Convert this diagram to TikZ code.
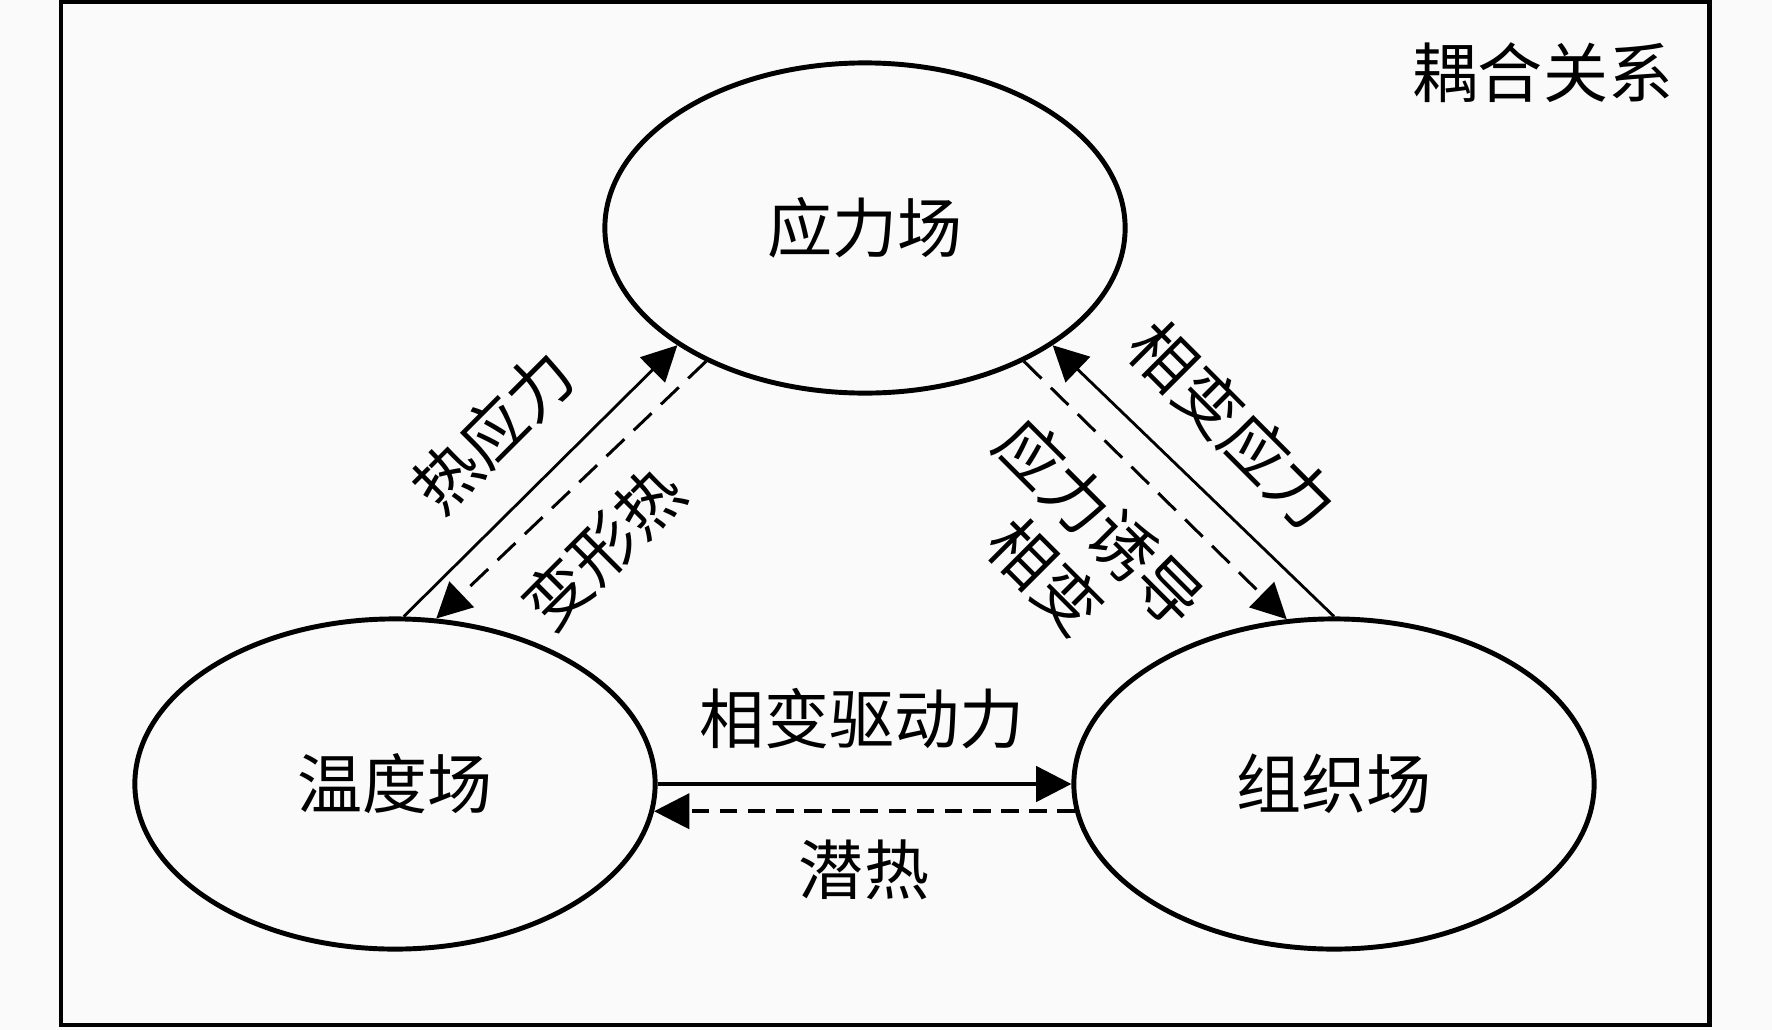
\documentclass[tikz,border=0pt]{standalone}
\usepackage{fontspec}
\newfontfamily\cjk{Noto Sans CJK SC}
\usetikzlibrary{shapes.geometric,arrows.meta}

\begin{document}
\begin{tikzpicture}[x=0.01cm,y=-0.01cm,font=\cjk\fontsize{18.5}{22}\selectfont,
  field/.style={ellipse,draw,line width=1.4pt,minimum width=5.2cm,minimum height=3.3cm,inner sep=0pt},
  tip/.style={-{Triangle[length=10pt,width=10pt]}},
  thinarrow/.style={tip,line width=0.8pt},
  dasharrow/.style={tip,line width=0.85pt,dash pattern=on 7pt off 3.7pt}]

\path[use as bounding box,fill=gray!4](0,0)rectangle(1772,1030);
\draw[line width=1.4pt](61,2)rectangle(1709.5,1025);

\node[field](stress)at(865,228){应力场};
\node[field](temp)at(395,784){温度场};
\node[field](micro)at(1334,784){组织场};
\node(title)at(1543,73){耦合关系};

\draw[thinarrow](temp.87)--(stress.-148);
\draw[dasharrow](stress.220)--(temp.76);
\draw[thinarrow](micro.90)--(stress.-32);
\draw[dasharrow](stress.-40)--(micro.106);
\draw[tip,line width=1.1pt](temp.east)--(micro.west);
\draw[dasharrow,line width=1pt,dash pattern=on 5pt off 3pt](micro.186)--(temp.-6);

\node[rotate=45](thermal)at(493,431){热应力};
\node[rotate=45](deform)at(603,548){变形热};
\node[rotate=-45](phstress)at(1233,425){相变应力};
\node[rotate=-45,align=center](induced)at(1073,549){应力诱导\\相变};
\node(drive)at(862,719){相变驱动力};
\node(latent)at(864,870){潜热};

\end{tikzpicture}
\end{document}
